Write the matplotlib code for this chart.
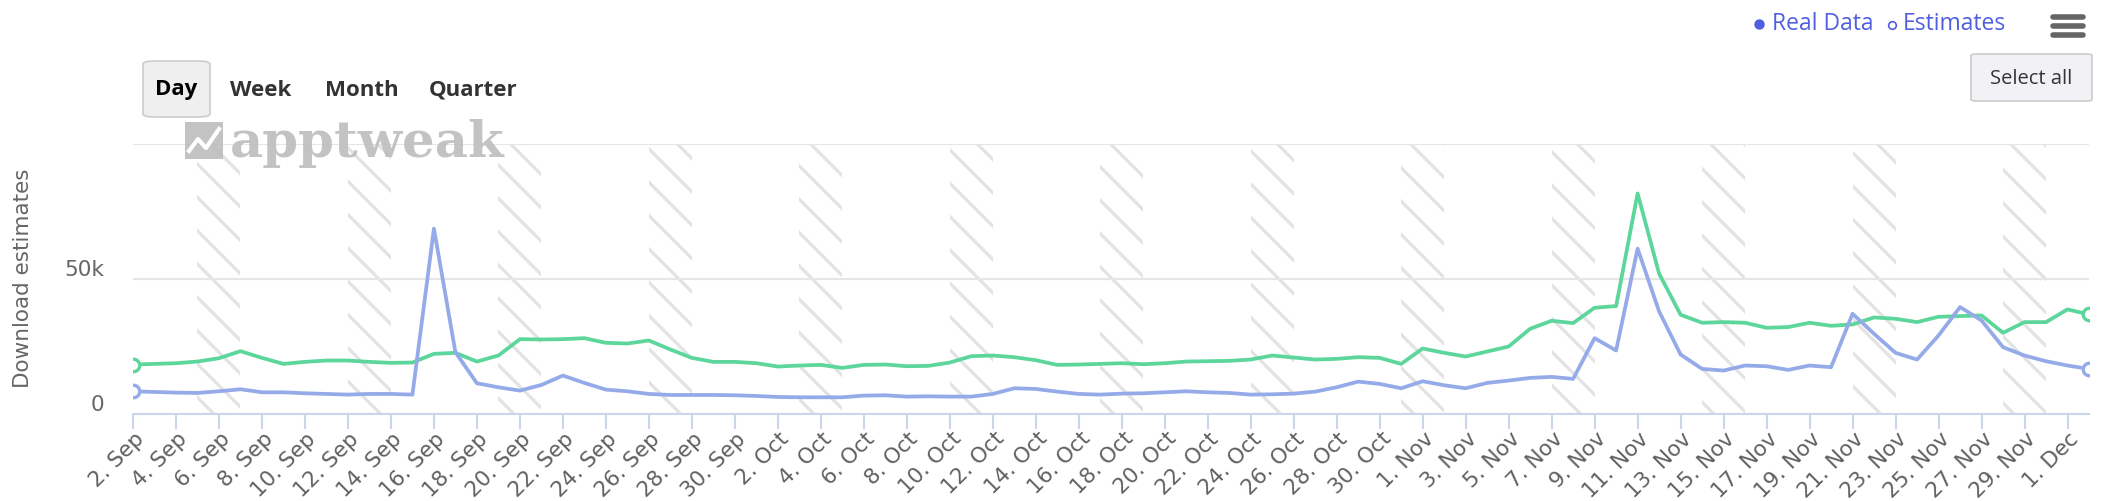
import pandas as pd
import matplotlib
matplotlib.use("Agg")
import matplotlib.pyplot as plt
from matplotlib.patches import FancyBboxPatch, Rectangle
from matplotlib.lines import Line2D
from matplotlib.transforms import ScaledTranslation

# daily download estimates, 2 Sep -> 2 Dec
start_date = "2020-09-02"
green_series = [
    18300, 18560, 18810, 19430, 20670, 23270, 20790, 18560, 19310, 19800,
    19800, 19310, 18940, 19060, 22280, 22650, 19430, 21660, 27720, 27600,
    27720, 28090, 26360, 26110, 27230, 23890, 20790, 19310, 19310, 18810,
    17570, 17950, 18190, 17080, 18190, 18320, 17700, 17820, 19060, 21410,
    21660, 21040, 19930, 18190, 18320, 18560, 18810, 18440, 18810, 19430,
    19550, 19680, 20170, 21660, 20920, 20170, 20420, 21040, 20790, 18560,
    24260, 22650, 21290, 23140, 25000, 31560, 34530, 33660, 39360, 39970,
    81680, 51980, 36760, 33790, 34030, 33790, 31930, 32180, 33790, 32670,
    33170, 35770, 35270, 34030, 36010, 36260, 36510, 30070, 34030, 34030,
    38740, 36880,
]
blue_series = [
    8420, 8170, 7920, 7800, 8420, 9160, 8040, 8040, 7670, 7430,
    7180, 7430, 7430, 7180, 68690, 22900, 11390, 9900, 8660, 10770,
    14230, 11510, 9030, 8420, 7430, 7050, 7050, 7050, 6930, 6680,
    6310, 6190, 6190, 6190, 6810, 6930, 6440, 6560, 6440, 6440,
    7430, 9530, 9280, 8290, 7430, 7180, 7550, 7670, 8040, 8420,
    8040, 7800, 7180, 7300, 7550, 8290, 9900, 12000, 11140, 9530,
    12130, 10640, 9530, 11510, 12380, 13370, 13740, 13000, 28090, 23510,
    61260, 37990, 22030, 16710, 16090, 17950, 17700, 16340, 17950, 17330,
    37130, 29700, 22650, 20170, 29080, 39600, 34650, 24750, 21660, 19550,
    17950, 16710,
]
y_ticks = [0, 50000, 100000]
y_tick_labels = ["0", "50k", ""]
buttons = ["Day", "Week", "Month", "Quarter"]
legend_labels = ["Real Data", "Estimates"]

dates = pd.date_range(start_date, periods=len(green_series), freq="D")
x = list(range(len(dates)))

W, H = 2102, 502
fig = plt.figure(figsize=(W / 100, H / 100), dpi=100)
plt.rcParams["hatch.linewidth"] = 2.3


def fx(px):
    return px / W


def fy(py):
    # pixel row from the top -> figure fraction
    return 1 - py / H


ax = fig.add_axes([fx(133), fy(415), fx(1956), 270 / H])

# weekend bands
for i, d in enumerate(dates):
    if d.dayofweek == 5:
        ax.axvspan(i, min(i + 2, x[-1]), facecolor="none", edgecolor="#e3e3e3",
                   hatch="\\", linewidth=0, zorder=0)

ax.plot(x, green_series, color="#5cd69b", lw=2.7, zorder=3,
        marker="o", markevery=[0, len(x) - 1], ms=9, mfc="white", mew=2.4)
ax.plot(x, blue_series, color="#95aae8", lw=2.7, zorder=3,
        marker="o", markevery=[0, len(x) - 1], ms=9, mfc="white", mew=2.4)

ax.set_xlim(0, x[-1])
ax.set_ylim(0, 100000)
ax.set_yticks(y_ticks)
ax.set_yticklabels(y_tick_labels)
ax.grid(axis="y", color="#e6e6e6", lw=1.5, zorder=1)
ax.set_axisbelow(True)
for s in ["top", "right", "left"]:
    ax.spines[s].set_visible(False)
ax.spines["bottom"].set_color("#ccd6eb")
ax.spines["bottom"].set_linewidth(1.5)
ax.spines["bottom"].set_zorder(4)

tick_pos = x[::2]
ax.set_xticks(tick_pos)
ax.set_xticklabels([f"{dates[i].day}. {dates[i].strftime('%b')}" for i in tick_pos])
ax.tick_params(axis="x", length=11, width=1.5, color="#ccd6eb", pad=4,
               labelsize=15.5, labelcolor="#606060")
ax.tick_params(axis="y", length=0, pad=21, labelsize=15.5, labelcolor="#666666")
for lab in ax.get_xticklabels():
    lab.set_rotation(45)
    lab.set_rotation_mode("anchor")
    lab.set_ha("right")
    lab.set_va("center")
    lab.set_transform(lab.get_transform() + ScaledTranslation(0.08, 0, fig.dpi_scale_trans))
for lab in ax.get_yticklabels():
    lab.set_transform(lab.get_transform() + ScaledTranslation(0, 0.12, fig.dpi_scale_trans))

fig.text(fx(23), fy(278), "Download estimates", rotation=90, ha="center", va="center",
         fontsize=15.5, color="#666666")

# watermark
fig.add_artist(Rectangle((fx(185), fy(160)), fx(38), 37 / H, transform=fig.transFigure,
                         facecolor="#bdbdbd", edgecolor="none", alpha=0.9, zorder=5))
fig.add_artist(Line2D([fx(189), fx(198), fx(206), fx(219)], [fy(152), fy(140), fy(149), fy(130)],
                      transform=fig.transFigure, color="white", lw=3, zorder=6))
fig.text(fx(230), fy(157), "apptweak", fontsize=37, fontweight="bold", family="DejaVu Serif",
         color="#bdbdbd", alpha=0.9, ha="left", va="baseline", zorder=5)

# range buttons
fig.add_artist(FancyBboxPatch((fx(143), fy(118)), fx(67), 56 / H, transform=fig.transFigure,
                              boxstyle="round,pad=0,rounding_size=0.006",
                              facecolor="#efefef", edgecolor="#cccccc", lw=1.2))
for label, cx in zip(buttons, [176, 261, 362, 473]):
    fig.text(fx(cx), fy(90), label, ha="center", va="center", fontsize=16,
             fontweight="bold", family="Open Sans",
             color="#000000" if label == "Day" else "#333333")

# legend: filled dot = real data, hollow dot = estimates
legend_blue = "#4f5fe0"
fig.add_artist(Line2D([fx(1759)], [fy(25)], transform=fig.transFigure, marker="o", ms=6.5,
                      color=legend_blue, lw=0))
fig.add_artist(Line2D([fx(1892)], [fy(26)], transform=fig.transFigure, marker="o", ms=5.5,
                      mfc="white", mec=legend_blue, mew=1.2, lw=0))
for label, lx in zip(legend_labels, [1772, 1903]):
    fig.text(fx(lx), fy(24), label, ha="left", va="center", fontsize=16.5,
             color=legend_blue, family="Open Sans")

# menu icon
for yy in [17.5, 26.5, 36]:
    fig.add_artist(Line2D([fx(2053), fx(2083)], [fy(yy), fy(yy)], transform=fig.transFigure,
                          color="#666666", lw=4, solid_capstyle="round"))

fig.add_artist(FancyBboxPatch((fx(1971), fy(102)), fx(121), 47 / H, transform=fig.transFigure,
                              boxstyle="round,pad=0,rounding_size=0.003",
                              facecolor="#f2f2f6", edgecolor="#cccccc", lw=1.2))
fig.text(fx(2031), fy(79), "Select all", ha="center", va="center", fontsize=14.5,
         color="#333333", family="Open Sans")

fig.savefig("out.png", dpi=100)
